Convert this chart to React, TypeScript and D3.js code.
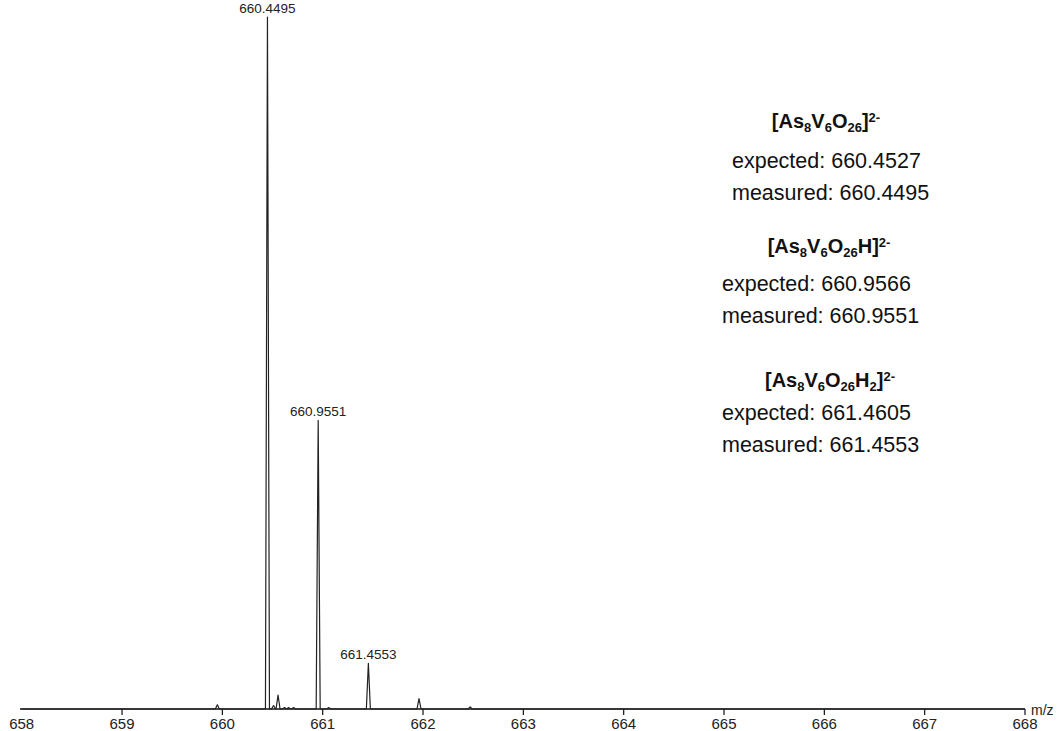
import React, { useRef, useEffect } from 'react'
import * as d3 from 'd3'

// peak centres (m/z) and relative heights (% of base peak)
const peakMz = [659.95, 660.4495, 660.51, 660.555, 660.62, 660.66, 660.71, 660.9551, 661.06, 661.4553, 661.96, 662.47]
const peakInt = [0.6, 100, 0.5, 2.0, 0.2, 0.2, 0.2, 41.7, 0.2, 6.6, 1.5, 0.3]

// labelled peaks
const labelMz = [660.4495, 660.9551, 661.4553]
const labelInt = [100, 41.7, 6.6]

const tickValues = [658, 659, 660, 661, 662, 663, 664, 665, 666, 667, 668]

// annotation block: formula parts, expected, measured
const ionNames = [
    [['[As', 'n'], ['8', 'sub'], ['V', 'n'], ['6', 'sub'], ['O', 'n'], ['26', 'sub'], [']', 'n'], ['2-', 'sup']],
    [['[As', 'n'], ['8', 'sub'], ['V', 'n'], ['6', 'sub'], ['O', 'n'], ['26', 'sub'], ['H]', 'n'], ['2-', 'sup']],
    [['[As', 'n'], ['8', 'sub'], ['V', 'n'], ['6', 'sub'], ['O', 'n'], ['26', 'sub'], ['H', 'n'], ['2', 'sub'], [']', 'n'], ['2-', 'sup']],
]
const expectedMz = ['660.4527', '660.9566', '661.4605']
const measuredMz = ['660.4495', '660.9551', '661.4553']

const App = () => {
    const chartRef = useRef<SVGSVGElement>(null)

    useEffect(() => {
        const svg = d3.select(chartRef.current)
        svg.selectAll('*').remove()

        const baseY = 709
        const x = d3.scaleLinear().domain([658, 668]).range([21.7, 1025])
        const y = d3.scaleLinear().domain([0, 100]).range([baseY, 17])

        // axis line and ticks
        const ax = svg.append('g')
        ax.append('line')
            .attr('x1', 20).attr('x2', x(668))
            .attr('y1', baseY).attr('y2', baseY)
            .attr('stroke', '#111').attr('stroke-width', 1.3)
        ax.selectAll('.tick')
            .data(tickValues.slice(1))
            .enter()
            .append('line')
            .attr('x1', d => x(d)).attr('x2', d => x(d))
            .attr('y1', baseY).attr('y2', baseY + 6)
            .attr('stroke', '#111').attr('stroke-width', 1.2)
        ax.selectAll('.lab')
            .data(tickValues)
            .enter()
            .append('text')
            .attr('x', d => x(d))
            .attr('y', 729)
            .attr('text-anchor', 'middle')
            .attr('font-size', 15)
            .attr('fill', '#222')
            .text(d => d)
        ax.append('text')
            .attr('x', 1031).attr('y', 715)
            .attr('font-size', 14)
            .attr('fill', '#222')
            .text('m/z')

        // spectrum profile
        const hw = 0.02
        const pts: [number, number][] = []
        pts.push([658, 0])
        peakMz.forEach((m, i) => {
            pts.push([m - hw, 0], [m, peakInt[i]], [m + hw, 0])
        })
        pts.push([668, 0])
        svg.append('path')
            .datum(pts)
            .attr('fill', 'none')
            .attr('stroke', '#222')
            .attr('stroke-width', 1.2)
            .attr('stroke-linejoin', 'round')
            .attr('d', d3.line<[number, number]>()
                .x(d => x(d[0]))
                .y(d => y(d[1]))
            )

        // peak labels
        svg.selectAll('.pl')
            .data(labelMz)
            .enter()
            .append('text')
            .attr('x', d => x(d))
            .attr('y', (d, i) => y(labelInt[i]) - 4)
            .attr('text-anchor', 'middle')
            .attr('font-size', 13.5)
            .attr('fill', '#222')
            .text(d => d.toFixed(4))

        // annotation text
        const titleY = [128, 253, 387]
        const expY = [168, 291, 420]
        const measY = [200, 323, 452]
        const titleX = [826, 829, 830]
        const lineX = [732, 722, 722]
        const ann = svg.append('g').attr('fill', '#111')
        ionNames.forEach((parts, k) => {
            const t = ann.append('text')
                .attr('x', titleX[k]).attr('y', titleY[k])
                .attr('text-anchor', 'middle')
                .attr('font-size', 20)
                .attr('font-weight', 'bold')
            parts.forEach(([s, kind], j) => {
                const prev = j > 0 ? parts[j - 1][1] : 'n'
                let dy = 0
                if (kind === 'sub') dy = prev === 'sub' ? 0 : (prev === 'sup' ? 10 : 4)
                else if (kind === 'sup') dy = prev === 'sub' ? -10 : -6
                else dy = prev === 'sub' ? -4 : (prev === 'sup' ? 6 : 0)
                t.append('tspan')
                    .attr('dy', dy)
                    .attr('font-size', kind === 'n' ? 20 : 13)
                    .text(s)
            })
            ann.append('text')
                .attr('x', lineX[k]).attr('y', expY[k])
                .attr('font-size', 21.5)
                .text('expected: ' + expectedMz[k])
            ann.append('text')
                .attr('x', lineX[k]).attr('y', measY[k])
                .attr('font-size', 21.5)
                .text('measured: ' + measuredMz[k])
        })
    }, [])

    return (
        <svg ref={chartRef} width={1059} height={731}
            style={{ position: 'absolute', left: 0, top: 0, background: '#fff', fontFamily: 'Arial, "Liberation Sans", sans-serif' }} />
    )
}

export default App
